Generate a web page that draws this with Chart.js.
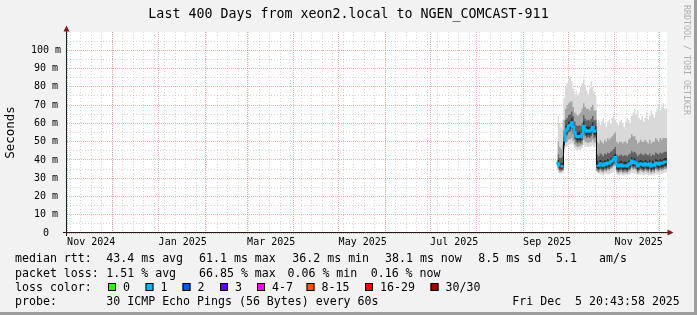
<!DOCTYPE html>
<html><head><meta charset="utf-8">
<script src="https://cdn.jsdelivr.net/npm/chart.js@4/dist/chart.umd.min.js"></script>
<style>html,body{margin:0;padding:0;background:#f2f2f2;overflow:hidden}canvas{display:block}</style>
</head><body>
<canvas id="c" width="697" height="315"></canvas>
<script>
// ---------- texts ----------
const titleText = 'Last 400 Days from xeon2.local to NGEN_COMCAST-911';
const yAxisTitle = 'Seconds';
const watermarkText = 'RRDTOOL / TOBI OETIKER';
const periodStart = Date.UTC(2024, 9, 31, 20, 43, 58);
const periodDays = 400;

// x labels
const monthLabels = ['Nov 2024', 'Jan 2025', 'Mar 2025', 'May 2025', 'Jul 2025', 'Sep 2025', 'Nov 2025'];
const labelYears = [2024, 2025, 2025, 2025, 2025, 2025, 2025];
const labelMonths = [10, 0, 2, 4, 6, 8, 10];

// y ticks
const yTickValues = [0, 10, 20, 30, 40, 50, 60, 70, 80, 90, 100];
const yTickLabels = ['0', '10 m', '20 m', '30 m', '40 m', '50 m', '60 m', '70 m', '80 m', '90 m', '100 m'];
const yMinorValues = [5, 15, 25, 35, 45, 55, 65, 75, 85, 95, 105];

// ---------- series (ms), one sample per day starting at day 327 of the period ----------
const firstSampleDay = 327;
const medianRtt = [
  39, 38, 36.5, 36, 36.5,
  50, 56, 57, 58.5, 59, 60.5, 58, 55, 53, 52.5, 53, 52.5, 54, 58.5, 56.5, 55.5, 56, 55.5, 56.5, 58, 55.5, 56,
  37.5, 37, 38, 37.5, 37, 38, 37.5, 38.5, 38, 39, 39.5, 40.5, 41.5, 37.5, 36.5, 37, 37.5, 36.5, 37, 37, 36.5, 37.5, 38, 39.5, 38.5, 39, 38, 36.5, 37.5, 38, 37.5, 37, 38, 37.5, 37, 38, 36.5, 37.5, 37, 38.5, 38, 37.5, 38.5, 38, 38.5, 39, 39
];
const lostPings = [
  1, 1, 20, 1, 1,
  1, 1, 1, 1, 1, 1, 1, 1, 1, 1, 1, 1, 1, 1, 1, 1, 1, 1, 1, 1, 1, 1,
  1, 1, 1, 1, 1, 1, 1, 1, 1, 1, 1, 1, 1, 1, 1, 1, 1, 1, 1, 1, 1, 1, 1, 1, 1, 1, 1, 1, 1, 1, 1, 1, 1, 1, 1, 1, 1, 1, 1, 1, 1, 1, 1, 1, 1, 1, 1
];
const smokeMax = [
  55, 64, 60, 58, 62,
  74, 80, 82, 84, 85, 83, 79, 76, 78, 75, 77, 80, 82, 84, 81, 78, 76, 79, 83, 80, 77, 75,
  60, 62, 59, 61, 63, 60, 58, 61, 62, 60, 63, 64, 62, 60, 59, 61, 62, 60, 58, 61, 63, 62, 60, 64, 66, 68, 65, 67, 63, 62, 64, 61, 63, 66, 62, 64, 67, 65, 63, 66, 68, 70, 67, 69, 71, 68, 68
];
const smokeMin = [
  34, 33, 32.5, 32.5, 33,
  44, 47, 47.5, 48, 48.5, 49, 48, 46.5, 45.5, 45, 45.5, 45.5, 46.5, 48, 47.5, 47, 47, 47, 47.5, 48, 47, 47,
  33, 32.5, 32, 32, 31.5, 32, 32.5, 32, 32, 32.5, 33, 33.5, 34, 32, 31.5, 31.5, 32, 31.5, 31.5, 32, 31.5, 32, 32, 33, 32.5, 32.5, 32, 31.5, 32, 32, 32, 31.5, 32, 32, 31.5, 32, 31.5, 32, 31.5, 32.5, 32, 32, 32.5, 32, 32.5, 33, 33
];
const smokeUpper1 = [
  48, 50, 47, 46, 48,
  62, 68, 70, 71, 72, 72, 69, 66, 65, 64, 65, 66, 68, 71, 69, 68, 68, 67, 69, 70, 67, 67,
  50, 49, 51, 50, 49, 51, 50, 52, 51, 52, 53, 54, 55, 50, 49, 50, 50, 49, 50, 50, 49, 51, 52, 54, 53, 53, 51, 49, 50, 51, 50, 50, 51, 50, 49, 51, 49, 50, 50, 52, 51, 50, 52, 51, 52, 52, 52
];
const smokeLower1 = [
  35, 34.5, 33.5, 33.5, 34,
  46, 49.5, 50, 51, 51.5, 52, 50.5, 48.5, 47.5, 47, 47.5, 47.5, 48.5, 51, 50, 49.5, 49.5, 49.5, 50, 51, 49.5, 49.5,
  33.5, 33, 34, 33.5, 33, 34, 33.5, 34.5, 34, 35, 35.5, 36.5, 37.5, 33.5, 32.5, 33, 33.5, 32.5, 33, 33, 32.5, 33.5, 34, 35.5, 34.5, 35, 34, 32.5, 33.5, 34, 33.5, 33, 34, 33.5, 33, 34, 32.5, 33.5, 33, 34.5, 34, 33.5, 34.5, 34, 34.5, 35, 35
];
const smokeUpper2 = [
  44, 43, 41, 41, 42,
  56, 62, 63, 64.5, 65, 66.5, 64, 61, 59, 58.5, 59, 58.5, 60, 64.5, 62.5, 61.5, 62, 61.5, 62.5, 64, 61.5, 62,
  43, 42, 43.5, 43, 42, 43.5, 43, 44, 43.5, 44.5, 45, 46, 47, 43, 42, 42.5, 43, 42, 42.5, 42.5, 42, 43, 43.5, 45, 44, 44.5, 43.5, 42, 43, 43.5, 43, 42.5, 43.5, 43, 42.5, 43.5, 42, 43, 42.5, 44, 43.5, 43, 44, 43.5, 44, 44.5, 44.5
];
const smokeLower2 = [
  36, 35.5, 34.5, 34, 34.5,
  47.5, 52.5, 53.5, 55, 55.5, 57, 54.5, 51.5, 49.5, 49, 49.5, 49, 50.5, 55, 53, 52, 52.5, 52, 53, 54.5, 52, 52.5,
  34.5, 34, 35, 34.5, 34, 35, 34.5, 35.5, 35, 36, 36.5, 37.5, 38.5, 34.5, 33.5, 34, 34.5, 33.5, 34, 34, 33.5, 34.5, 35, 36.5, 35.5, 36, 35, 33.5, 34.5, 35, 34.5, 34, 35, 34.5, 34, 35, 33.5, 34.5, 34, 35.5, 35, 34.5, 35.5, 35, 35.5, 36, 36
];
const smokeUpper3 = [
  41, 40, 38.5, 38, 38.5,
  52.5, 58.5, 59.5, 61, 61.5, 63, 60.5, 57.5, 55.5, 55, 55.5, 55, 56.5, 61, 59, 58, 58.5, 58, 59, 60.5, 58, 58.5,
  39.5, 39, 40, 39.5, 39, 40, 39.5, 40.5, 40, 41, 41.5, 42.5, 43.5, 39.5, 38.5, 39, 39.5, 38.5, 39, 39, 38.5, 39.5, 40, 41.5, 40.5, 41, 40, 38.5, 39.5, 40, 39.5, 39, 40, 39.5, 39, 40, 38.5, 39.5, 39, 40.5, 40, 39.5, 40.5, 40, 40.5, 41, 41
];
const smokeLower3 = [
  37, 36.5, 35.5, 35, 35.5,
  48, 54, 55, 56.5, 57, 58.5, 56, 53, 51, 50.5, 51, 50.5, 52, 56.5, 54.5, 53.5, 54, 53.5, 54.5, 56, 53.5, 54,
  35.5, 35, 36, 35.5, 35, 36, 35.5, 36.5, 36, 37, 37.5, 38.5, 39.5, 35.5, 34.5, 35, 35.5, 34.5, 35, 35, 34.5, 35.5, 36, 37.5, 36.5, 37, 36, 34.5, 35.5, 36, 35.5, 35, 36, 35.5, 35, 36, 34.5, 35.5, 35, 36.5, 36, 35.5, 36.5, 36, 36.5, 37, 37
];

// ---------- legend texts ----------
const medianStats = ['43.4 ms avg', '61.1 ms max', '36.2 ms min', '38.1 ms now', '8.5 ms sd', '5.1', 'am/s'];
const lossStats = ['1.51 % avg', '66.85 % max', '0.06 % min', '0.16 % now'];
const lossLegendLabels = ['0', '1', '2', '3', '4-7', '8-15', '16-29', '30/30'];
const lossLegendColors = ['#26ff00', '#00b8ff', '#0059ff', '#5e00ff', '#ff00ff', '#ff5500', '#ff0000', '#a10000'];
const lossLegendMin = [0, 1, 2, 3, 4, 8, 16, 30];
const probeText = '30 ICMP Echo Pings (56 Bytes) every 60s';
const dateText = 'Fri Dec  5 20:43:58 2025';

// ---------- helpers ----------
const DAY = 86400000;
const dayOf = t => (t - periodStart) / DAY;
const lossColor = n => {
  let c = lossLegendColors[0];
  lossLegendMin.forEach((m, i) => { if (n >= m) c = lossLegendColors[i]; });
  return c;
};
const pts = arr => arr.map((v, i) => ({ x: firstSampleDay + i, y: v }));

const labelDays = labelMonths.map((m, i) => dayOf(Date.UTC(labelYears[i], m, 1)) + 16);
const monthStartDays = [];
for (let y = 2024, m = 10; ; m++) {
  if (m > 11) { m = 0; y++; }
  const d = dayOf(Date.UTC(y, m, 1));
  if (d > periodDays) break;
  monthStartDays.push(d);
}
const weekDays = [];
for (let d = dayOf(Date.UTC(2024, 10, 3)); d <= periodDays; d += 7) weekDays.push(d);

const MONO = '"DejaVu Sans Mono", "Liberation Mono", monospace';
const majorGrid = 'rgba(240,90,90,0.5)';
const minorGrid = 'rgba(150,150,150,0.4)';

const band = (lo, hi, color) => ([
  { data: pts(lo), borderWidth: 0, pointRadius: 0, fill: false, stepped: 'after' },
  { data: pts(hi), borderWidth: 0, pointRadius: 0, fill: '-1', backgroundColor: color, stepped: 'after' }
]);

const datasets = [
  {
    data: pts(medianRtt), borderWidth: 2.5, pointRadius: 0, fill: false, stepped: 'after',
    borderColor: '#00b8ff', borderCapStyle: 'butt', borderJoinStyle: 'miter',
    segment: {
      borderColor: ctx => Math.abs(ctx.p1.parsed.y - ctx.p0.parsed.y) > 8
        ? 'rgba(0,0,0,0)' : lossColor(lostPings[ctx.p0DataIndex])
    }
  },
  { data: pts(medianRtt), borderWidth: 1, pointRadius: 0, fill: false, stepped: 'after', borderColor: '#111111' },
  ...band(smokeLower3, smokeUpper3, '#2e2e2e'),
  ...band(smokeLower2, smokeUpper2, '#626262'),
  ...band(smokeLower1, smokeUpper1, '#a4a4a4'),
  ...band(smokeMin, smokeMax, '#d9d9d9')
];

const gridAxis = (ticksArr, color, pos, horizontal, dash) => ({
  type: 'linear', position: pos, display: true,
  min: 0, max: horizontal ? periodDays : 110,
  grid: { color: color, lineWidth: 1, drawTicks: false },
  border: { display: false, dash: dash },
  ticks: { display: false },
  afterBuildTicks: s => { s.ticks = ticksArr.map(v => ({ value: v })); },
  afterFit: s => { if (horizontal) s.height = 0; else s.width = 0; }
});

const decor = {
  id: 'decor',
  beforeDraw(chart) {
    const c = chart.ctx, a = chart.chartArea, W = chart.width, H = chart.height;
    c.save();
    c.fillStyle = '#f2f2f2'; c.fillRect(0, 0, W, H);
    c.fillStyle = '#9d9d9d'; c.fillRect(W - 3, 0, 3, H); c.fillRect(0, H - 3, W, 3);
    c.fillStyle = '#ffffff'; c.fillRect(a.left, a.top, a.right - a.left, a.bottom - a.top);
    c.restore();
  },
  afterDraw(chart) {
    const c = chart.ctx, a = chart.chartArea;
    c.save();
    // axes
    c.strokeStyle = '#1e1e1e'; c.lineWidth = 1;
    c.beginPath();
    c.moveTo(a.left - 4, a.bottom - 0.5); c.lineTo(a.right + 1, a.bottom - 0.5);
    c.moveTo(a.left - 0.5, a.bottom + 3); c.lineTo(a.left - 0.5, a.top - 2);
    c.stroke();
    c.fillStyle = '#7d1c1c';
    c.beginPath();
    c.moveTo(a.left - 0.5, a.top - 6.5); c.lineTo(a.left + 2.5, a.top - 0.5); c.lineTo(a.left - 3.5, a.top - 0.5); c.closePath();
    c.fill();
    c.beginPath();
    c.moveTo(a.right + 6.5, a.bottom - 0.5); c.lineTo(a.right + 0.5, a.bottom - 3.5); c.lineTo(a.right + 0.5, a.bottom + 2.5); c.closePath();
    c.fill();

    // title
    c.fillStyle = '#000';
    c.textBaseline = 'alphabetic';
    c.textAlign = 'center';
    c.font = '13.3px ' + MONO;
    c.fillText(titleText, chart.width / 2, 18.3);

    // watermark
    c.save();
    c.translate(686.5, 5);
    c.rotate(Math.PI / 2);
    c.textAlign = 'left'; c.textBaseline = 'middle';
    c.fillStyle = '#adadad';
    c.font = '8.3px ' + MONO;
    c.fillText(watermarkText, 0, 0);
    c.restore();

    // legend
    c.textAlign = 'left';
    c.fillStyle = '#000';
    c.font = '11.6px ' + MONO;
    const r1 = 262.3, r2 = 276.8, r3 = 291.2, r4 = 305.4;
    c.fillText('median rtt:', 15, r1);
    [106.3, 199, 292.3, 385, 478.3, 556, 599].forEach((x, i) => c.fillText(medianStats[i], x, r1));
    c.fillText('packet loss:', 15, r2);
    [106.3, 199, 287.5, 370.7].forEach((x, i) => c.fillText(lossStats[i], x, r2));
    c.fillText('loss color:', 15, r3);
    const boxX = [108, 145.5, 182.5, 220, 257, 306.5, 365, 430.5];
    boxX.forEach((x, i) => {
      c.fillStyle = lossLegendColors[i];
      c.fillRect(x, 283, 8, 8);
      c.strokeStyle = '#000'; c.lineWidth = 1;
      c.strokeRect(x + 0.5, 283.5, 7, 7);
      c.fillStyle = '#000';
      c.fillText(lossLegendLabels[i], x + 15, r3);
    });
    c.fillText('probe:', 15, r4);
    c.fillText(probeText, 106.3, r4);
    c.fillText(dateText, 512.3, r4);
    c.restore();
  }
};

new Chart(document.getElementById('c'), {
  type: 'line',
  data: { datasets },
  options: {
    responsive: false, animation: false, devicePixelRatio: 1, events: [],
    layout: { padding: { top: 32, left: 0, right: 30, bottom: 0 } },
    plugins: { legend: { display: false }, tooltip: { enabled: false }, title: { display: false } },
    scales: {
      xMinor: gridAxis(weekDays, minorGrid, 'bottom', true, [1, 2]),
      xMajor: gridAxis(monthStartDays, majorGrid, 'bottom', true, [1, 1]),
      x: {
        type: 'linear', position: 'bottom', min: 0, max: periodDays,
        grid: { display: false, drawTicks: false },
        border: { display: false },
        ticks: {
          autoSkip: false, maxRotation: 0, padding: 3, color: '#000',
          font: { family: MONO, size: 10 },
          callback: (v, i) => monthLabels[i]
        },
        afterBuildTicks: s => { s.ticks = labelDays.map(v => ({ value: v })); },
        afterFit: s => { s.height = 82; }
      },
      yMinor: gridAxis(yMinorValues, minorGrid, 'left', false, [1, 2]),
      y: {
        type: 'linear', position: 'left', min: 0, max: 110,
        grid: { color: majorGrid, lineWidth: 1, drawTicks: false },
        border: { display: false, dash: [1, 1] },
        ticks: {
          padding: 6, crossAlign: 'center', color: '#000',
          font: { family: MONO, size: 10 },
          callback: (v, i) => yTickLabels[i]
        },
        title: { display: true, text: yAxisTitle, color: '#000', font: { family: MONO, size: 12.5 }, padding: { top: 3, bottom: 0 } },
        afterBuildTicks: s => { s.ticks = yTickValues.map(v => ({ value: v })); },
        afterFit: s => { s.width = 67; }
      }
    }
  },
  plugins: [decor]
});
</script>
</body></html>
